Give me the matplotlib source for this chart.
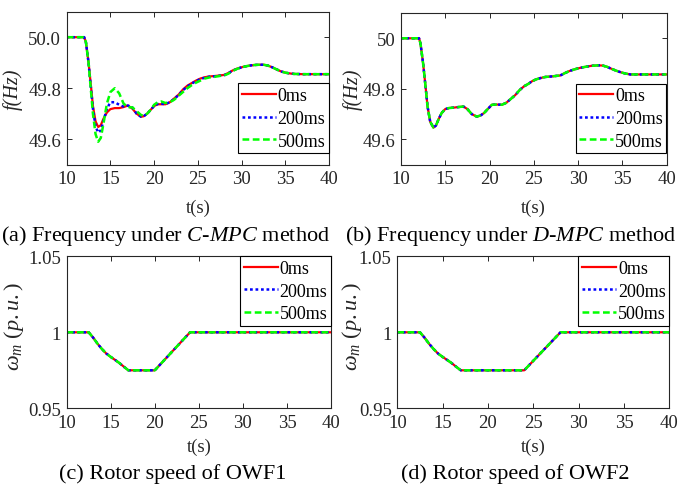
import matplotlib
matplotlib.use("Agg")
import matplotlib.pyplot as plt
import numpy as np

plt.rcParams['font.family'] = ['Liberation Serif', 'DejaVu Serif']
plt.rcParams['mathtext.fontset'] = 'custom'
plt.rcParams['mathtext.rm'] = 'Liberation Serif'
plt.rcParams['mathtext.it'] = 'Liberation Serif:italic'
plt.rcParams['mathtext.bf'] = 'Liberation Serif:bold'

# ---------------- data ----------------
labels = ["0ms", "200ms", "500ms"]

# (a) frequency under C-MPC
t_a = [10, 12, 12.2, 12.5, 12.8, 13.0, 13.3, 13.6, 13.9, 14.2, 14.6, 15.0, 15.5, 16.0,
       16.5, 17.0, 17.5, 18.0, 18.5, 18.8, 19.2, 19.6, 20.0, 20.4, 20.8, 21.3, 21.8,
       22.3, 22.8, 23.3, 23.8, 24.3, 24.8, 25.3, 25.8, 26.3, 27.0, 27.5, 28.0, 28.5,
       29.0, 29.5, 30.0, 30.5, 31.0, 31.5, 32.0, 32.5, 33.0, 33.5, 34.0, 34.5, 35.0,
       35.5, 36.0, 37.0, 38.0, 39.0, 40.0]
f_a_0ms = [50.0, 50.0, 49.98, 49.90, 49.80, 49.73, 49.67, 49.648, 49.655, 49.68, 49.705,
           49.718, 49.722, 49.722, 49.726, 49.732, 49.72, 49.70, 49.688, 49.69, 49.70,
           49.715, 49.73, 49.737, 49.737, 49.737, 49.745, 49.76, 49.775, 49.795, 49.81,
           49.82, 49.83, 49.838, 49.843, 49.846, 49.848, 49.85, 49.852, 49.86, 49.87,
           49.877, 49.882, 49.886, 49.889, 49.891, 49.892, 49.892, 49.889, 49.882,
           49.874, 49.866, 49.861, 49.858, 49.856, 49.855, 49.855, 49.855, 49.855]
f_a_200ms = [50.0, 50.0, 49.98, 49.90, 49.79, 49.72, 49.65, 49.626, 49.635, 49.67, 49.72,
             49.745, 49.745, 49.735, 49.728, 49.732, 49.725, 49.70, 49.688, 49.69, 49.70,
             49.715, 49.73, 49.738, 49.739, 49.738, 49.745, 49.758, 49.773, 49.792, 49.807,
             49.818, 49.828, 49.836, 49.841, 49.845, 49.847, 49.849, 49.851, 49.859, 49.869,
             49.876, 49.882, 49.886, 49.889, 49.891, 49.892, 49.892, 49.889, 49.882,
             49.874, 49.866, 49.861, 49.858, 49.856, 49.855, 49.855, 49.855, 49.855]
f_a_500ms = [50.0, 50.0, 49.98, 49.90, 49.78, 49.70, 49.62, 49.59, 49.605, 49.66, 49.74,
             49.785, 49.80, 49.78, 49.74, 49.725, 49.725, 49.71, 49.695, 49.692, 49.70,
             49.715, 49.735, 49.745, 49.748, 49.742, 49.745, 49.755, 49.77, 49.785, 49.80,
             49.812, 49.822, 49.83, 49.838, 49.842, 49.845, 49.848, 49.85, 49.857, 49.868,
             49.876, 49.882, 49.886, 49.889, 49.891, 49.892, 49.892, 49.889, 49.882,
             49.874, 49.866, 49.861, 49.858, 49.856, 49.855, 49.855, 49.855, 49.855]

# (b) frequency under D-MPC (all delays overlap)
t_b = [10, 12.04, 12.2, 12.5, 12.8, 13.0, 13.3, 13.66, 13.95, 14.25, 14.6, 15.0, 15.4,
       16.0, 16.5, 17.06, 17.5, 18.0, 18.57, 19.0, 19.4, 19.8, 20.27, 20.8, 21.4, 21.9,
       22.4, 22.9, 23.4, 23.9, 24.4, 24.8, 25.3, 25.8, 26.3, 27.0, 27.5, 28.0, 28.5,
       29.0, 29.5, 30.0, 30.5, 31.0, 31.5, 32.3, 32.8, 33.3, 33.8, 34.3, 34.8, 35.3,
       35.9, 37.0, 38.0, 39.0, 40.0]
f_b = [50.0, 50.0, 49.98, 49.90, 49.80, 49.73, 49.67, 49.647, 49.655, 49.68, 49.705,
       49.72, 49.724, 49.726, 49.728, 49.73, 49.72, 49.70, 49.69, 49.695, 49.705, 49.72,
       49.737, 49.738, 49.737, 49.745, 49.76, 49.775, 49.795, 49.81, 49.82, 49.83,
       49.838, 49.843, 49.847, 49.849, 49.851, 49.853, 49.862, 49.87, 49.876, 49.881,
       49.885, 49.888, 49.891, 49.893, 49.892, 49.887, 49.879, 49.872, 49.866, 49.861,
       49.857, 49.857, 49.857, 49.857, 49.857]

# (c) rotor speed of OWF1
t_c = [10, 12.5, 13.0, 13.5, 14.0, 14.5, 15.0, 15.5, 16.0, 16.5, 17.0, 20.0, 24.0, 40.0]
w_c = [1.0, 1.0, 0.9965, 0.9925, 0.989, 0.986, 0.9838, 0.9818, 0.9797, 0.9773, 0.975,
       0.975, 1.0, 1.0]

# (d) rotor speed of OWF2
t_d = [10, 12.5, 13.0, 13.5, 14.0, 14.5, 15.0, 15.5, 16.0, 16.5, 17.0, 24.0, 28.0, 40.0]
w_d = [1.0, 1.0, 0.9965, 0.9925, 0.989, 0.986, 0.9838, 0.9818, 0.9797, 0.9773, 0.975,
       0.975, 1.0, 1.0]

xticks = [10, 15, 20, 25, 30, 35, 40]
f_ticks = [49.6, 49.8, 50.0]
f_ticklabels_a = ["49.6", "49.8", "50.0"]
f_ticklabels_b = ["49.6", "49.8", "50"]
w_ticks = [0.95, 1.0, 1.05]
w_ticklabels = ["0.95", "1", "1.05"]

captions = ["(a) Frequency under $C$-$MPC$ method",
            "(b) Frequency under $D$-$MPC$ method",
            "(c) Rotor speed of OWF1",
            "(d) Rotor speed of OWF2"]

# ---------------- figure ----------------
W, H = 679, 485
fig = plt.figure(figsize=(W / 100, H / 100), dpi=100)

def rect(l, r, t, b):
    return [l / W, 1 - b / H, (r - l) / W, (b - t) / H]

axc = '#262626'
styles = [dict(color='#ff0000', ls='-', lw=1.6),
          dict(color='#0000ff', ls=(0, (1.1, 1.1)), lw=1.8),
          dict(color='#00ff00', ls=(0, (2.7, 1.4)), lw=1.8)]
FS = 13
TFS = 13.5

def style_axes(ax):
    ax.set_xlim(10, 40)
    ax.set_xticks(xticks)
    ax.tick_params(direction='in', length=3.5, width=0.7, colors=axc, labelsize=TFS,
                   top=True, right=True, pad=4)
    for s in ax.spines.values():
        s.set_color(axc)
        s.set_linewidth(0.8)

def add_legend(ax, loc, anchor):
    leg = ax.legend(labels, loc=loc, bbox_to_anchor=anchor,
                    fontsize=FS, frameon=True, fancybox=False, framealpha=1,
                    edgecolor='black', borderaxespad=0, handlelength=1.89,
                    handletextpad=0.1, labelspacing=0.32, borderpad=0.2)
    leg.get_frame().set_linewidth(0.8)

boxes = {'a': (66.7, 329, 12.7, 165.7), 'b': (401, 666.5, 14, 165.7),
         'c': (66.7, 331, 257.3, 409.3), 'd': (397.3, 669.3, 257.3, 409.3)}
ax_a = fig.add_axes(rect(*boxes['a']))
ax_b = fig.add_axes(rect(*boxes['b']))
ax_c = fig.add_axes(rect(*boxes['c']))
ax_d = fig.add_axes(rect(*boxes['d']))

for ys, st in zip([f_a_0ms, f_a_200ms, f_a_500ms], styles):
    ax_a.plot(t_a, ys, **st)
for st in styles:
    ax_b.plot(t_b, f_b, **st)
for st in styles:
    ax_c.plot(t_c, w_c, **st)
    ax_d.plot(t_d, w_d, **st)

def place_labels(ax, box, xl_base, yl_x, yl_y):
    l, r, t, b = box
    ax.xaxis.set_label_coords(0.5, (b - xl_base) / (b - t))
    ax.yaxis.set_label_coords((yl_x - l) / (r - l), (b - yl_y) / (b - t))

for ax, key, lab, ylx in [(ax_a, 'a', f_ticklabels_a, 13.3), (ax_b, 'b', f_ticklabels_b, 353.3)]:
    style_axes(ax)
    ax.set_ylim(49.5, 50.1)
    ax.set_yticks(f_ticks)
    ax.set_yticklabels(lab)
    ax.set_ylabel("f(Hz)", fontsize=14.5, style='italic', color=axc, va='center')
    ax.set_xlabel("t(s)", fontsize=13.5, color=axc, va='baseline')
    place_labels(ax, boxes[key], 213.3, ylx, 89.5)

for ax, key, ylx in [(ax_c, 'c', 14), (ax_d, 'd', 352)]:
    style_axes(ax)
    ax.set_ylim(0.95, 1.05)
    ax.set_yticks(w_ticks)
    ax.set_yticklabels(w_ticklabels)
    ax.set_ylabel(r"$\omega_m\ (p.u.)$", fontsize=16, color=axc, va='center')
    ax.set_xlabel("t(s)", fontsize=13.5, color=axc, va='baseline')
    place_labels(ax, boxes[key], 451.7, ylx, 327)

add_legend(ax_a, 'lower right', (1.0, 0.075))
add_legend(ax_b, 'lower right', (1.0, 0.075))
add_legend(ax_c, 'upper right', (1.0, 1.0))
add_legend(ax_d, 'upper right', (1.0, 1.0))

cap_pos = [(166, 240.7), (510.7, 240.7), (173, 479.3), (515, 479.3)]
for cap, (x, y) in zip(captions, cap_pos):
    fig.text(x / W, 1 - y / H, cap, ha='center', va='baseline', fontsize=16, color='black')

fig.savefig("out.png", dpi=100)
